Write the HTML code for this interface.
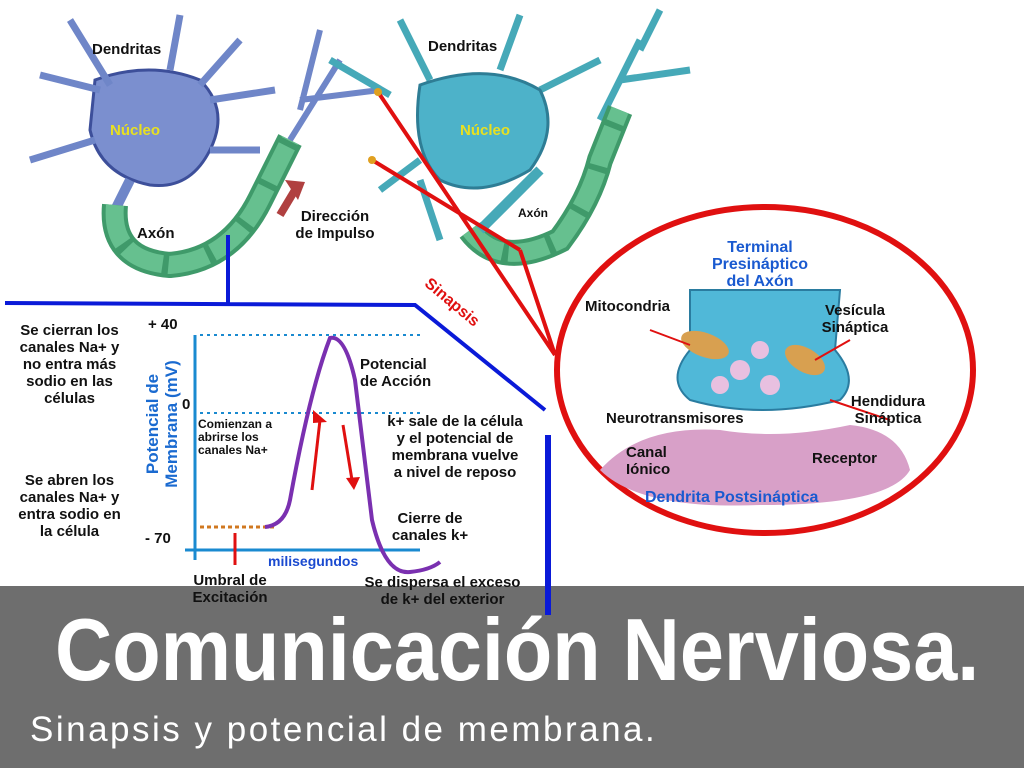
<!DOCTYPE html>
<html><head><meta charset="utf-8"><style>
body{margin:0;width:1024px;height:768px;overflow:hidden;background:#fff;font-family:"Liberation Sans",sans-serif;position:relative}
.t{position:absolute;font-weight:bold;color:#111;font-size:15px;line-height:17px}
.c{text-align:center}
</style></head><body>
<div style="position:absolute;left:0;top:586px;width:1024px;height:182px;background:#6e6e6e"></div>
<svg width="1024" height="768" style="position:absolute;left:0;top:0">
<g fill="#7b8fcf" stroke="#3d4f9a" stroke-width="3">
<path d="M95 80 Q150 60 200 80 Q230 110 210 150 Q190 190 150 185 Q100 175 90 130 Z"/>
<path d="M100 90 L40 75 M110 85 L70 20 M170 70 L180 15 M200 85 L240 40 M210 100 L275 90 M95 140 L30 160 M210 150 L260 150" fill="none" stroke="#6f86c8" stroke-width="7"/>
<path d="M130 180 L115 210" fill="none" stroke="#6f86c8" stroke-width="10"/>
<path d="M340 60 L290 140 M300 110 L320 30 M300 100 L380 90" fill="none" stroke="#6f86c8" stroke-width="6"/>
</g>
<path d="M115 205 Q110 260 170 265 Q230 260 260 200 L290 140" fill="none" stroke="#3f9a6a" stroke-width="26"/>
<path d="M115 205 Q110 260 170 265 Q230 260 260 200 L290 140" fill="none" stroke="#66c08f" stroke-width="18" stroke-dasharray="40 6"/>
<g fill="none" stroke="#46a9b8" stroke-width="7">
<path d="M390 95 L330 60 M430 80 L400 20 M500 70 L520 15 M540 90 L600 60 M420 160 L380 190 M420 180 L440 240"/>
<path d="M600 120 L640 40 M620 80 L690 70 M640 50 L660 10"/>
</g>
<path d="M420 85 Q490 60 540 90 Q560 130 530 170 Q480 200 440 180 Q410 150 420 85Z" fill="#4db2c9" stroke="#2e7d95" stroke-width="3"/>
<path d="M470 230 Q500 270 560 240 Q590 200 600 160 L620 110" fill="none" stroke="#3f9a6a" stroke-width="26"/>
<path d="M470 230 Q500 270 560 240 Q590 200 600 160 L620 110" fill="none" stroke="#66c08f" stroke-width="18" stroke-dasharray="40 6"/>
<path d="M540 170 L480 230" stroke="#46a9b8" stroke-width="10"/>
<path d="M280 215 L295 190" stroke="#b04040" stroke-width="8"/>
<path d="M285 180 L305 182 L298 200Z" fill="#b04040"/>
<path d="M378 92 L555 355 M372 160 L520 250 M520 250 L555 355" stroke="#e01010" stroke-width="4" fill="none"/>
<circle cx="378" cy="92" r="4" fill="#e0a020"/><circle cx="372" cy="160" r="4" fill="#e0a020"/>
<path d="M228 235 L228 303 M5 303 L415 305 L545 410" stroke="#0a1ad8" stroke-width="4" fill="none"/>
<path d="M548 435 L548 615" stroke="#0a1ad8" stroke-width="6"/>
<path d="M195 335 L195 560 M185 550 L420 550" stroke="#1a8ad0" stroke-width="3"/>
<path d="M200 335 L420 335 M200 413 L420 413" stroke="#1a8ad0" stroke-width="2" stroke-dasharray="3 4"/>
<path d="M200 527 L275 527" stroke="#d07820" stroke-width="3" stroke-dasharray="4 3"/>
<path d="M235 533 L235 565" stroke="#e01010" stroke-width="3"/>
<path d="M265 527 Q285 525 290 500 Q310 390 330 338 Q345 335 355 380 L372 520 Q385 575 410 572 Q430 570 440 562" fill="none" stroke="#7a30b0" stroke-width="4"/>
<path d="M312 490 L320 420" stroke="#e01010" stroke-width="3"/><path d="M313 410 L327 422 L313 423Z" fill="#e01010"/>
<path d="M343 425 L352 480" stroke="#e01010" stroke-width="3"/><path d="M346 478 L360 477 L354 490Z" fill="#e01010"/>
<ellipse cx="765" cy="370" rx="208" ry="163" fill="#fff" stroke="#e01010" stroke-width="6"/>
<path d="M600 470 Q640 425 720 430 Q780 440 850 425 Q900 430 910 470 Q890 505 760 505 Q640 510 600 470Z" fill="#d8a0c8"/>
<path d="M690 290 L840 290 L835 350 Q860 380 840 400 Q760 420 690 400 Q665 380 690 350Z" fill="#50b8d8" stroke="#2a7ca0" stroke-width="2"/>
<ellipse cx="705" cy="345" rx="25" ry="12" fill="#d8a050" transform="rotate(20 705 345)"/>
<ellipse cx="805" cy="360" rx="22" ry="12" fill="#d8a050" transform="rotate(30 805 360)"/>
<g fill="#e8c0e0"><circle cx="740" cy="370" r="10"/><circle cx="770" cy="385" r="10"/><circle cx="720" cy="385" r="9"/><circle cx="760" cy="350" r="9"/></g>
<path d="M650 330 L690 345 M850 340 L815 360 M890 420 L830 400" stroke="#e01010" stroke-width="2"/>
</svg>
<div class="t" style="left:92px;top:41px">Dendritas</div>
<div class="t" style="left:428px;top:38px">Dendritas</div>
<div class="t" style="left:110px;top:122px;color:#e8e020">Núcleo</div>
<div class="t" style="left:460px;top:122px;color:#e8e020">Núcleo</div>
<div class="t" style="left:137px;top:225px">Axón</div>
<div class="t" style="left:518px;top:205px;font-size:12px">Axón</div>
<div class="t c" style="left:280px;top:208px;width:110px">Dirección<br>de Impulso</div>
<div class="t" style="left:432px;top:275px;color:#e01010;transform:rotate(40deg);transform-origin:left top;font-size:16px">Sinapsis</div>
<div class="t c" style="left:2px;top:322px;width:135px">Se cierran los<br>canales Na+ y<br>no entra más<br>sodio en las<br>células</div>
<div class="t c" style="left:2px;top:472px;width:135px">Se abren los<br>canales Na+ y<br>entra sodio en<br>la célula</div>
<div class="t" style="left:148px;top:316px">+ 40</div>
<div class="t" style="left:182px;top:396px">0</div>
<div class="t" style="left:145px;top:530px">- 70</div>
<div class="t c" style="left:77px;top:405px;width:170px;color:#1a6ad0;font-size:17px;line-height:19px;transform:rotate(-90deg)">Potencial de<br>Membrana (mV)</div>
<div class="t" style="left:198px;top:418px;font-size:12px;line-height:13px">Comienzan a<br>abrirse los<br>canales Na+</div>
<div class="t" style="left:360px;top:356px">Potencial<br>de Acción</div>
<div class="t c" style="left:365px;top:413px;width:180px">k+ sale de la célula<br>y el potencial de<br>membrana vuelve<br>a nivel de reposo</div>
<div class="t c" style="left:380px;top:510px;width:100px">Cierre de<br>canales k+</div>
<div class="t" style="left:268px;top:553px;color:#1a4ad0;font-size:14px">milisegundos</div>
<div class="t c" style="left:175px;top:572px;width:110px">Umbral de<br>Excitación</div>
<div class="t c" style="left:340px;top:574px;width:205px">Se dispersa el exceso<br>de k+ del exterior</div>
<div class="t c" style="left:680px;top:239px;width:160px;color:#1a5ad0;font-size:16px">Terminal<br>Presináptico<br>del Axón</div>
<div class="t" style="left:585px;top:298px">Mitocondria</div>
<div class="t c" style="left:805px;top:302px;width:100px">Vesícula<br>Sináptica</div>
<div class="t c" style="left:838px;top:393px;width:100px">Hendidura<br>Sináptica</div>
<div class="t" style="left:606px;top:410px">Neurotransmisores</div>
<div class="t" style="left:626px;top:444px">Canal<br>Iónico</div>
<div class="t" style="left:812px;top:450px">Receptor</div>
<div class="t" style="left:645px;top:489px;color:#1a5ad0;font-size:16px">Dendrita Postsináptica</div>
<div style="position:absolute;left:55px;top:600px;color:#fff;font-weight:bold;font-size:88px;line-height:100px;white-space:nowrap;transform:scaleX(0.9);transform-origin:left top">Comunicación Nerviosa.</div>
<div style="position:absolute;left:30px;top:708px;color:#fff;font-size:35px;line-height:44px;letter-spacing:2.5px;white-space:nowrap">Sinapsis y potencial de membrana.</div>
</body></html>
